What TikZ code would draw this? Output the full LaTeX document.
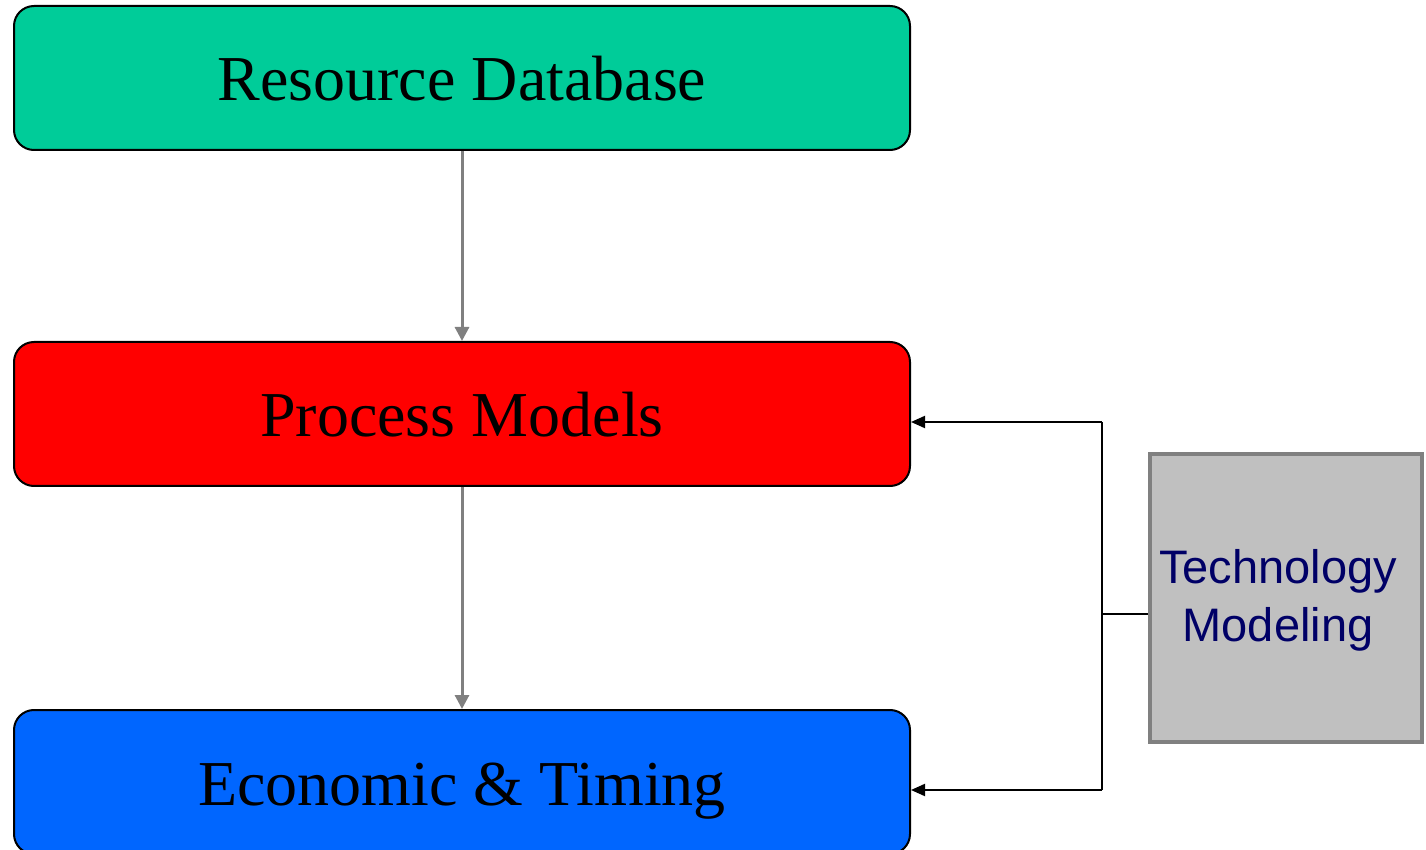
\documentclass[tikz,border=0pt]{standalone}
\usepackage{fontspec}
\setmainfont{Liberation Serif}
\newfontfamily\arialfont{Liberation Sans}
\usetikzlibrary{arrows.meta}
\definecolor{dbgreen}{RGB}{0,204,153}
\definecolor{pmred}{RGB}{255,0,0}
\definecolor{etblue}{RGB}{0,102,255}
\definecolor{techgray}{RGB}{192,192,192}
\definecolor{edgegray}{RGB}{128,128,128}
\definecolor{navy}{RGB}{0,0,102}
\tikzset{
  stage/.style={draw=black, line width=1pt, rounded corners=10pt,
    minimum width=448pt, minimum height=72pt, inner sep=0pt,
    text height=23pt, text depth=0pt,
    font=\fontsize{32}{38}\selectfont},
  flow/.style={draw=edgegray, line width=1.5pt,
    -{Triangle[length=7pt,width=7pt]}},
  feed/.style={draw=black, line width=1pt,
    -{Triangle[length=7pt,width=6pt]}},
  techbox/.style={draw=edgegray, fill=techgray, line width=2pt,
    minimum width=136pt, minimum height=144pt, inner sep=0pt},
  techtext/.style={text=navy, align=center,
    font=\arialfont\fontsize{23.5}{29}\selectfont}
}
\begin{document}
\begin{tikzpicture}[x=0.5pt,y=-0.5pt]
  \useasboundingbox (0,0) rectangle (1426,850);
  \node[stage, fill=dbgreen] (db) at (462,78) {Resource Database};
  \node[stage, fill=pmred] (pm) at (462,414) {Process Models};
  \node[stage, fill=etblue] (et) at (462,782) {Economic \& Timing};
  \node[techbox] (tech) at (1286,598) {};
  \node[techtext] (techlabel) at (1278,600) {Technology\\Modeling};

  \draw[flow] (db) -- (pm);
  \draw[flow] (pm) -- (et);

  \coordinate (jt) at (1102,422);
  \coordinate (jm) at (1102,614);
  \coordinate (jb) at (1102,790);
  \draw[line width=1pt] (tech.west |- jm) -- (jm);
  \draw[line width=1pt] (jt) -- (jb);
  \draw[feed] (jt) -- (pm.east |- jt);
  \draw[feed] (jb) -- (et.east |- jb);
\end{tikzpicture}
\end{document}
